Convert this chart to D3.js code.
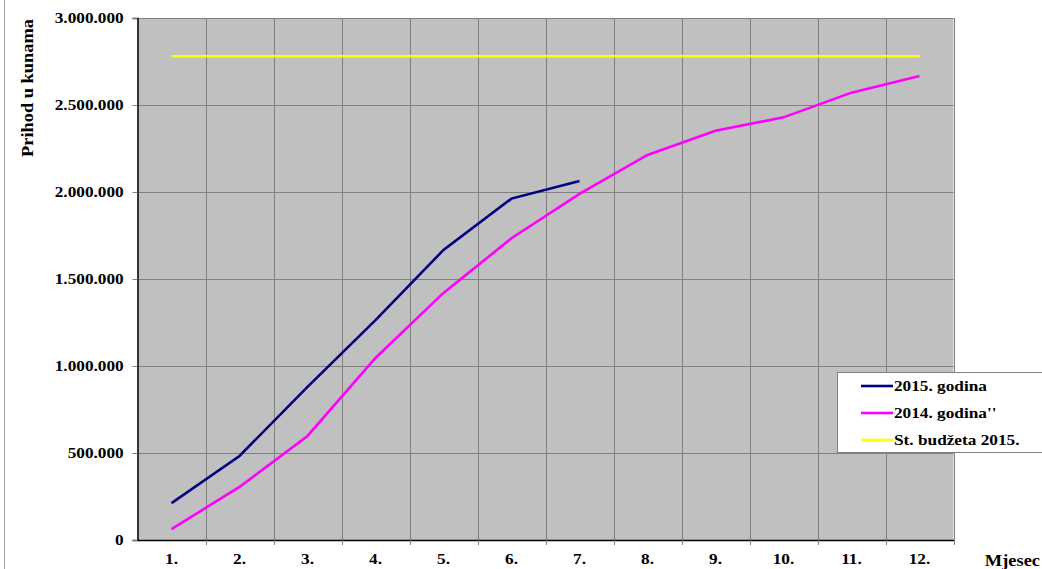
<!DOCTYPE html>
<html>
<head>
<meta charset="utf-8">
<script src="https://cdn.jsdelivr.net/npm/d3@7"></script>
<style>
  body { margin: 0; background: #fff; }
  text { font-family: "Liberation Serif", "Times New Roman", serif; font-weight: bold; }
</style>
</head>
<body>
<svg width="1042" height="569"></svg>
<script>
// data
var months = ["1.", "2.", "3.", "4.", "5.", "6.", "7.", "8.", "9.", "10.", "11.", "12."];
var god2015 = [212000, 483000, 880000, 1264000, 1667000, 1962000, 2063000];
var god2014 = [63000, 305000, 598000, 1046000, 1420000, 1734000, 1989000, 2213000, 2352000, 2429000, 2571000, 2667000];
var budzet = [2780000, 2780000, 2780000, 2780000, 2780000, 2780000, 2780000, 2780000, 2780000, 2780000, 2780000, 2780000];
var yTicks = [0, 500000, 1000000, 1500000, 2000000, 2500000, 3000000];

var seriesNames = ["2015. godina", "2014. godina''", "St. budžeta 2015."];
var seriesColors = ["#000080", "#ff00ff", "#ffff00"];

var svg = d3.select("svg"),
    width = +svg.attr("width"),
    height = +svg.attr("height");

var plotLeft = 137.5, plotRight = 953.5, plotTop = 18, plotBottom = 540;
var stretch = "scale(1.15,1)";   // the original text is a bit wide

var x = d3.scaleBand().domain(months).range([plotLeft, plotRight]);
var y = d3.scaleLinear().domain([0, 3000000]).range([plotBottom, plotTop]);

var fmt = function(d) {
    return d3.format(",")(d).replace(/,/g, ".");
};

// frame line on the left
svg.append("line")
    .attr("x1", 4.5).attr("x2", 4.5).attr("y1", 0).attr("y2", height)
    .attr("stroke", "#a0a0a0").attr("stroke-width", 1);

// plot area
svg.append("rect")
    .attr("x", plotLeft).attr("y", plotTop)
    .attr("width", plotRight - plotLeft).attr("height", plotBottom - plotTop)
    .attr("fill", "#c0c0c0");

// horizontal grid
svg.append("g")
    .selectAll("line")
    .data(yTicks)
    .enter()
    .append("line")
    .attr("x1", plotLeft).attr("x2", plotRight)
    .attr("y1", function(d) { return Math.round(y(d)) + 0.5 })
    .attr("y2", function(d) { return Math.round(y(d)) + 0.5 })
    .attr("stroke", "#808080");

// vertical grid
svg.append("g")
    .selectAll("line")
    .data(months)
    .enter()
    .append("line")
    .attr("x1", function(d) { return Math.round(x(d) + x.bandwidth()) + 0.5 })
    .attr("x2", function(d) { return Math.round(x(d) + x.bandwidth()) + 0.5 })
    .attr("y1", plotTop).attr("y2", plotBottom)
    .attr("stroke", "#808080");

// y axis
var yAxis = svg.append("g")
    .attr("transform", "translate(" + plotLeft + ",0)")
    .call(d3.axisLeft(y).tickValues(yTicks).tickFormat(fmt).tickSize(5).tickPadding(7));
yAxis.select(".domain").attr("stroke", "#000").attr("stroke-width", 1.5);
yAxis.selectAll(".tick line").attr("stroke", "#808080");
yAxis.selectAll("text")
    .style("font-size", "15px")
    .attr("fill", "#000")
    .attr("transform", stretch);

// x axis
var xAxis = svg.append("g")
    .attr("transform", "translate(0," + plotBottom + ")")
    .call(d3.axisBottom(x).tickSize(0).tickPadding(13));
xAxis.select(".domain").attr("stroke", "#000").attr("stroke-width", 1.5);
xAxis.selectAll("text")
    .style("font-size", "15px")
    .attr("fill", "#000")
    .attr("transform", stretch);

// small ticks below x axis at category boundaries
svg.append("g")
    .selectAll("line")
    .data(months)
    .enter()
    .append("line")
    .attr("x1", function(d) { return Math.round(x(d) + x.bandwidth()) + 0.5 })
    .attr("x2", function(d) { return Math.round(x(d) + x.bandwidth()) + 0.5 })
    .attr("y1", plotBottom).attr("y2", plotBottom + 5)
    .attr("stroke", "#808080");

// lines
var line = d3.line()
    .x(function(d, i) { return x(months[i]) + x.bandwidth() / 2 })
    .y(function(d) { return y(d) });

var series = [god2015, god2014, budzet];
[2, 1, 0].forEach(function(k) {
    svg.append("path")
        .datum(series[k])
        .attr("d", line)
        .attr("fill", "none")
        .attr("stroke", seriesColors[k])
        .attr("stroke-width", 2.6);
});

// axis titles
svg.append("text")
    .attr("transform", "translate(33,88) rotate(-90) " + stretch)
    .attr("text-anchor", "middle")
    .style("font-size", "16px")
    .text("Prihod u kunama");

svg.append("text")
    .attr("transform", "translate(1040,566) " + stretch)
    .attr("text-anchor", "end")
    .style("font-size", "16px")
    .text("Mjesec");

// legend
var legend = svg.append("g");
legend.append("rect")
    .attr("x", 837.5).attr("y", 372.5)
    .attr("width", 210).attr("height", 80)
    .attr("fill", "#fff").attr("stroke", "#808080");

seriesNames.forEach(function(n, i) {
    var ly = 386 + i * 27;
    legend.append("line")
        .attr("x1", 861).attr("x2", 893)
        .attr("y1", ly).attr("y2", ly)
        .attr("stroke", seriesColors[i]).attr("stroke-width", 2.6);
    legend.append("text")
        .attr("transform", "translate(894," + ly + ") " + stretch)
        .attr("dy", "0.35em")
        .style("font-size", "15px")
        .text(n);
});
</script>
</body>
</html>
